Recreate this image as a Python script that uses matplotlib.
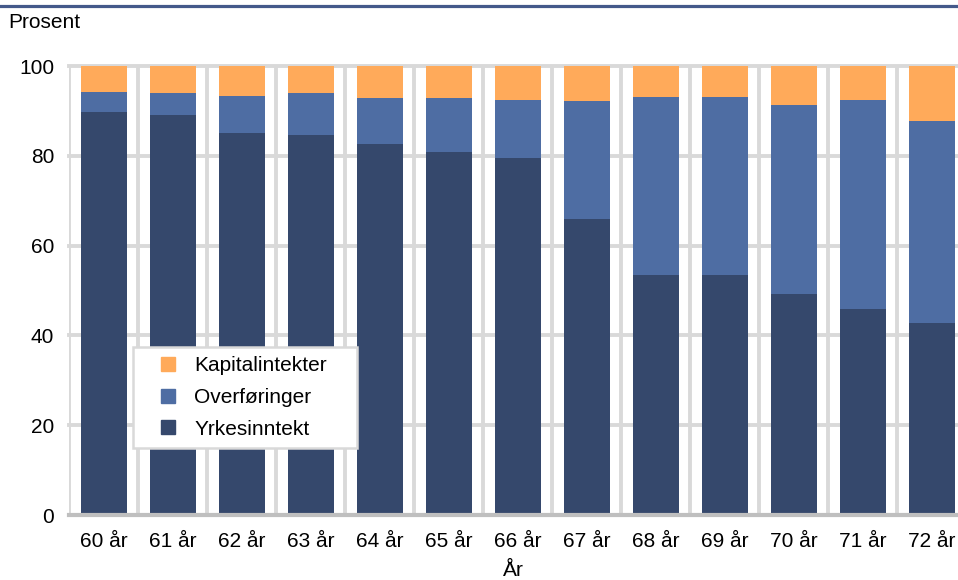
import numpy as np
import matplotlib
matplotlib.use("Agg")
import matplotlib.pyplot as plt
from matplotlib.lines import Line2D

plt.rcParams["font.family"] = ["Liberation Sans", "DejaVu Sans"]

# data (prosent av samlet inntekt)
ages = ["60 år", "61 år", "62 år", "63 år", "64 år", "65 år", "66 år",
        "67 år", "68 år", "69 år", "70 år", "71 år", "72 år"]
yrkesinntekt = [89.8, 89.2, 85.1, 84.6, 82.6, 80.8, 79.5, 65.9, 53.5, 53.5, 49.2, 45.9, 42.8]
overforinger = [4.5, 4.9, 8.3, 9.4, 10.4, 12.0, 13.0, 26.4, 39.6, 39.6, 42.1, 46.6, 45.0]
kapitalinntekter = [5.7, 5.9, 6.6, 6.0, 7.0, 7.2, 7.5, 7.7, 6.9, 6.9, 8.7, 7.5, 12.2]

series_names = ["Yrkesinntekt", "Overføringer", "Kapitalintekter"]
colors = ["#35486C", "#4E6DA3", "#FFAA5A"]

FS = 15
fig = plt.figure(figsize=(9.58, 5.80), dpi=100)
ax = fig.add_axes([0.0725, 0.112, 0.936, 0.774])

x = np.arange(len(ages))
bottom = np.zeros(len(ages))
for vals, name, col in zip([yrkesinntekt, overforinger, kapitalinntekter], series_names, colors):
    ax.bar(x, vals, width=0.67, bottom=bottom, color=col, label=name, zorder=2)
    bottom += np.array(vals)

ax.set_xlim(-0.5, len(ages) - 0.5)
ax.set_ylim(0, 100)
ax.set_yticks(np.arange(0, 101, 20))
ax.set_xticks(x)
ax.set_xticklabels(ages)
ax.set_xticks(np.arange(-0.5, len(ages), 1), minor=True)
ax.tick_params(axis="both", which="both", length=0, labelsize=FS)
ax.tick_params(axis="y", pad=11)
ax.tick_params(axis="x", pad=12)

ax.grid(axis="y", which="major", color="#D9D9D9", lw=2.8, zorder=0)
ax.grid(axis="x", which="minor", color="#D9D9D9", lw=2.8, zorder=0)
ax.set_axisbelow(True)
for gl in ax.get_ygridlines() + ax.get_xgridlines():
    gl.set_clip_on(False)
for s in ax.spines.values():
    s.set_visible(False)
ax.axhline(0, color="#BFBFBF", lw=3, zorder=3, clip_on=False)

# legend, reversed order like the original
handles = [Line2D([], [], marker="s", ls="", color=c, markersize=10) for c in colors]
leg = ax.legend(handles[::-1], series_names[::-1], loc="lower left",
                bbox_to_anchor=(0.0708, 0.149, 0.2497, 0.234), mode="expand",
                borderaxespad=0, fontsize=FS, fancybox=False, framealpha=1,
                handlelength=2.5, handletextpad=0.0, labelspacing=0.62,
                borderpad=0.45)
leg.get_frame().set_edgecolor("#D9D9D9")
leg.get_frame().set_linewidth(1.8)
leg.set_zorder(5)

fig.text(8 / 958, 1 - 22 / 580, "Prosent", fontsize=FS, va="center", ha="left")
fig.text(513 / 958, 1 - 571 / 580, "År", fontsize=FS, va="center", ha="center")
fig.add_artist(Line2D([0, 1], [1 - 6 / 580, 1 - 6 / 580], color="#44598A", lw=2.3,
                      transform=fig.transFigure))

fig.savefig("out.png", dpi=100)
